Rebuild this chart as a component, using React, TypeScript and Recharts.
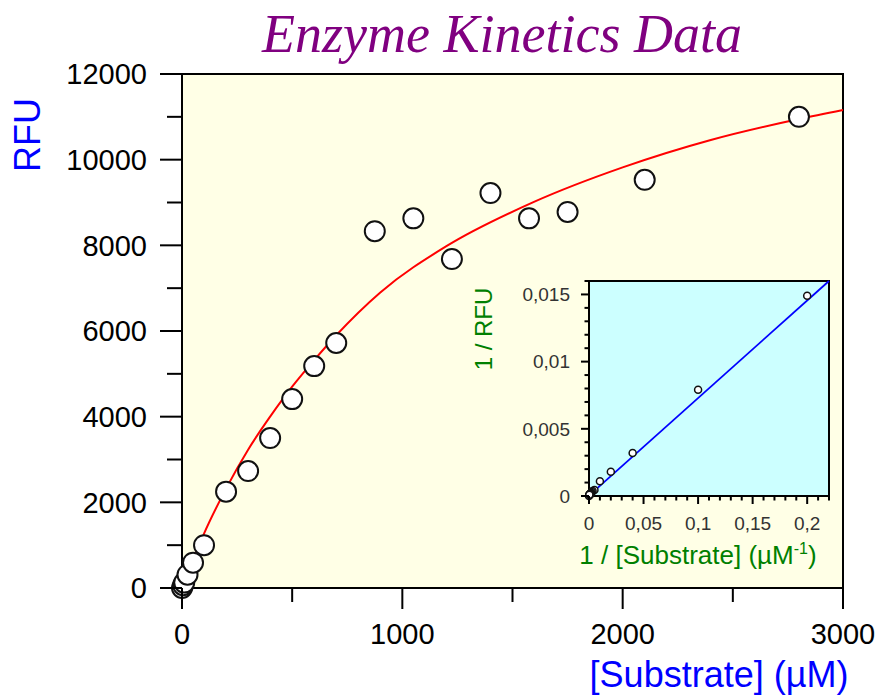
import React from 'react';
import { ComposedChart, XAxis, YAxis, Scatter, Line, ReferenceArea } from 'recharts';

// substrate concentration (µM) vs. measured fluorescence
const substrate = [0, 5, 10, 25, 50, 100, 200, 300, 400, 500, 600, 700, 875, 1050, 1225, 1400, 1575, 1750, 2100, 2800];
const rfu = [0, 67, 126, 310, 590, 1000, 2250, 2730, 3500, 4410, 5180, 5720, 8330, 8630, 7680, 9220, 8630, 8780, 9530, 11000];

// fitted Michaelis-Menten curve
const fitSubstrate = [0, 50, 100, 200, 300, 400, 500, 600, 700, 900, 1200, 1600, 2000, 2400, 2800, 3000];
const fitRfu = [0, 650, 1270, 2320, 3230, 4000, 4700, 5320, 5900, 6900, 7980, 9020, 9820, 10460, 10950, 11160];

// Lineweaver-Burk (double reciprocal) inset
const invSubstrate = [0, 0.2, 0.1, 0.04, 0.02, 0.01, 0.005, 0.0033, 0.0025, 0.002, 0.0017, 0.0014, 0.0011, 0.00095, 0.0008, 0.0007, 0.00063, 0.00057, 0.00048, 0.00036];
const invRfu = [0, 0.0149, 0.0079, 0.0032, 0.0018, 0.0011, 0.00044, 0.00037, 0.00029, 0.00023, 0.00019, 0.00017, 0.00012, 0.00012, 0.00013, 0.00011, 0.00012, 0.00011, 0.000105, 0.00009];
const lbX = [0, 0.22];
const lbY = [0.00003, 0.016];

// axis ticks
const mainXTicks = [0, 500, 1000, 1500, 2000, 2500, 3000];
const mainXLabels = [0, 1000, 2000, 3000];
const mainYTicks = [0, 1000, 2000, 3000, 4000, 5000, 6000, 7000, 8000, 9000, 10000, 11000, 12000];
const mainYLabels = [0, 2000, 4000, 6000, 8000, 10000, 12000];
const insetXTicks = [0, 0.01, 0.02, 0.03, 0.04, 0.05, 0.06, 0.07, 0.08, 0.09, 0.1, 0.11, 0.12, 0.13, 0.14, 0.15, 0.16, 0.17, 0.18, 0.19, 0.2, 0.21, 0.22];
const insetXLabels = [0, 0.05, 0.1, 0.15, 0.2];
const insetYTicks = [0, 0.001, 0.002, 0.003, 0.004, 0.005, 0.006, 0.007, 0.008, 0.009, 0.01, 0.011, 0.012, 0.013, 0.014, 0.015, 0.016];
const insetYLabels = [0, 0.005, 0.01, 0.015];

const points = substrate.map((s, i) => ({ x: s, y: rfu[i] }));
const fit = fitSubstrate.map((s, i) => ({ x: s, y: fitRfu[i] }));
const lbPoints = invSubstrate.map((s, i) => ({ x: s, y: invRfu[i] }));
const lbLine = lbX.map((s, i) => ({ x: s, y: lbY[i] }));

const SANS = 'Liberation Sans, Arial, sans-serif';
const comma = (v: number) => String(v).replace('.', ',');

const MainYTick = (props: any) => {
  const { x, y, payload } = props;
  const major = mainYLabels.includes(payload.value);
  return (
    <g>
      <line x1={x - (major ? 22 : 15)} x2={x} y1={y} y2={y} stroke="#000" strokeWidth={2} />
      {major && (
        <text x={x - 35} y={y} dy="0.36em" textAnchor="end" fontFamily={SANS} fontSize={29} fill="#000">
          {payload.value}
        </text>
      )}
    </g>
  );
};

const MainXTick = (props: any) => {
  const { x, y, payload } = props;
  const major = mainXLabels.includes(payload.value);
  return (
    <g>
      <line x1={x} x2={x} y1={y} y2={y + (major ? 21 : 14)} stroke="#000" strokeWidth={2} />
      {major && (
        <text x={x} y={y + 46} dy="0.36em" textAnchor="middle" fontFamily={SANS} fontSize={29} fill="#000">
          {payload.value}
        </text>
      )}
    </g>
  );
};

const InsetYTick = (props: any) => {
  const { x, y, payload } = props;
  const major = insetYLabels.includes(payload.value);
  return (
    <g>
      <line x1={x - (major ? 8 : 4.5)} x2={x} y1={y} y2={y} stroke="#000" strokeWidth={2} />
      {major && (
        <text x={x - 19} y={y} dy="0.36em" textAnchor="end" fontFamily={SANS} fontSize={19} fill="#333">
          {comma(payload.value)}
        </text>
      )}
    </g>
  );
};

const InsetXTick = (props: any) => {
  const { x, y, payload } = props;
  const major = insetXLabels.includes(payload.value);
  return (
    <g>
      <line x1={x} x2={x} y1={y} y2={y + (major ? 8 : 4.5)} stroke="#000" strokeWidth={2} />
      {major && (
        <text x={x} y={y + 27} dy="0.36em" textAnchor="middle" fontFamily={SANS} fontSize={19} fill="#333">
          {comma(payload.value)}
        </text>
      )}
    </g>
  );
};

const BigDot = (props: any) => (
  <circle cx={props.cx} cy={props.cy} r={10} fill="#fff" stroke="#111" strokeWidth={2} />
);

const SmallDot = (props: any) => (
  <circle cx={props.cx} cy={props.cy} r={3.5} fill="#fff" stroke="#111" strokeWidth={1.5} />
);

const App = () => (
  <div style={{ position: 'absolute', left: 0, top: 0, width: 879, height: 700 }}>
    <div style={{ position: 'absolute', left: 0, top: 0 }}>
      <ComposedChart width={879} height={700} margin={{ top: 74, right: 36, bottom: 0, left: 0 }}>
        <XAxis
          type="number"
          dataKey="x"
          domain={[0, 3000]}
          ticks={mainXTicks}
          interval={0}
          height={112}
          tickSize={0}
          tickMargin={0}
          tickLine={false}
          tick={<MainXTick />}
          axisLine={{ stroke: '#000', strokeWidth: 2 }}
        />
        <YAxis
          type="number"
          dataKey="y"
          domain={[0, 12000]}
          ticks={mainYTicks}
          interval={0}
          width={182}
          tickSize={0}
          tickMargin={0}
          tickLine={false}
          tick={<MainYTick />}
          axisLine={{ stroke: '#000', strokeWidth: 2 }}
        />
        <ReferenceArea x1={0} x2={3000} y1={0} y2={12000} fill="#FFFFE6" fillOpacity={1} stroke="#000" strokeWidth={2} />
        <Line
          data={fit}
          dataKey="y"
          type="monotone"
          stroke="#FF0000"
          strokeWidth={2}
          dot={false}
          activeDot={false}
          isAnimationActive={false}
        />
        <Scatter data={points} dataKey="y" shape={<BigDot />} isAnimationActive={false} />
      </ComposedChart>
    </div>

    <div style={{ position: 'absolute', left: 470, top: 270 }}>
      <ComposedChart width={380} height={310} margin={{ top: 11, right: 21, bottom: 0, left: 0 }}>
        <XAxis
          type="number"
          dataKey="x"
          domain={[0, 0.22]}
          ticks={insetXTicks}
          interval={0}
          height={84}
          tickSize={0}
          tickMargin={0}
          tickLine={false}
          tick={<InsetXTick />}
          axisLine={{ stroke: '#000', strokeWidth: 2 }}
        />
        <YAxis
          type="number"
          dataKey="y"
          domain={[0, 0.016]}
          ticks={insetYTicks}
          interval={0}
          width={119}
          tickSize={0}
          tickMargin={0}
          tickLine={false}
          tick={<InsetYTick />}
          axisLine={{ stroke: '#000', strokeWidth: 2 }}
        />
        <ReferenceArea x1={0} x2={0.22} y1={0} y2={0.016} fill="#CCFFFF" fillOpacity={1} stroke="#000" strokeWidth={2} />
        <Line
          data={lbLine}
          dataKey="y"
          type="linear"
          stroke="#0000FF"
          strokeWidth={1.8}
          dot={false}
          activeDot={false}
          isAnimationActive={false}
        />
        <Scatter data={lbPoints} dataKey="y" shape={<SmallDot />} isAnimationActive={false} />
      </ComposedChart>
    </div>

    {/* titles */}
    <svg width={879} height={700} style={{ position: 'absolute', left: 0, top: 0, pointerEvents: 'none' }}>
      <text
        x={502}
        y={52}
        textAnchor="middle"
        fontFamily="Liberation Serif, Times New Roman, serif"
        fontStyle="italic"
        fontSize={54}
        fill="#800080"
      >
        Enzyme Kinetics Data
      </text>
      <text
        x={0}
        y={0}
        transform="translate(40,135) rotate(-90)"
        textAnchor="middle"
        fontFamily={SANS}
        fontSize={36}
        fill="#0000FF"
      >
        RFU
      </text>
      <text x={719} y={687} textAnchor="middle" fontFamily={SANS} fontSize={36} fill="#0000FF">
        [Substrate] (µM)
      </text>
      <text
        x={0}
        y={0}
        transform="translate(492,329) rotate(-90)"
        textAnchor="middle"
        fontFamily={SANS}
        fontSize={24}
        fill="#008000"
      >
        1 / RFU
      </text>
      <text x={698} y={564} textAnchor="middle" fontFamily={SANS} fontSize={26} fill="#008000">
        1 / [Substrate] (µM
        <tspan fontSize={16} dy={-10}>-1</tspan>
        <tspan dy={10}>)</tspan>
      </text>
    </svg>
  </div>
);

export default App;
